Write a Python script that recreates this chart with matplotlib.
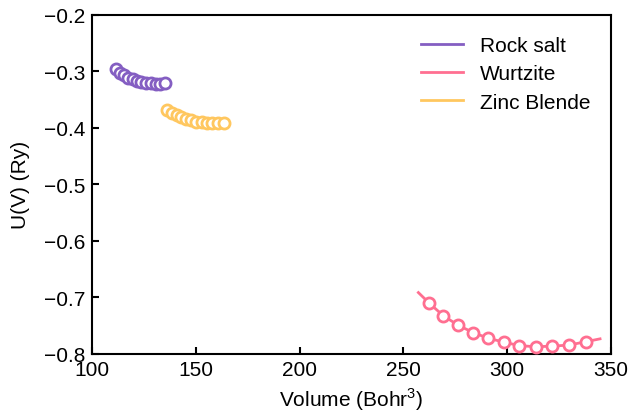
import matplotlib
matplotlib.use("Agg")
import matplotlib.pyplot as plt

plt.rcParams['font.family'] = ['Liberation Sans', 'DejaVu Sans']
plt.rcParams['mathtext.fontset'] = 'custom'
plt.rcParams['mathtext.rm'] = 'Liberation Sans'

# Rock salt
rs_vol = [111.6, 113.5, 115.5, 117.5, 119.6, 121.7, 123.8, 126.0, 128.3, 130.6, 132.9, 135.2]
rs_u = [-0.296, -0.302, -0.307, -0.311, -0.314, -0.317, -0.319, -0.3205, -0.321, -0.3215, -0.3215, -0.321]
rs_fit_vol = [110.0, 111.6, 113.5, 115.5, 117.5, 119.6, 121.7, 123.8, 126.0, 128.3, 130.6, 132.9, 135.2]
rs_fit_u = [-0.292, -0.296, -0.302, -0.307, -0.311, -0.314, -0.317, -0.319, -0.3205, -0.321, -0.3215, -0.3215, -0.321]

# Wurtzite
wz_vol = [262.5, 269.2, 276.4, 283.7, 290.9, 298.6, 305.8, 313.7, 321.4, 329.8, 338.0]
wz_u = [-0.711, -0.733, -0.750, -0.763, -0.773, -0.780, -0.786, -0.788, -0.787, -0.785, -0.779]
wz_fit_vol = [257.2, 262.5, 269.2, 276.4, 283.7, 290.9, 298.6, 305.8, 313.7, 321.4, 329.8, 338.0, 344.7]
wz_fit_u = [-0.692, -0.711, -0.733, -0.750, -0.763, -0.773, -0.780, -0.786, -0.788, -0.787, -0.785, -0.779, -0.774]

# Zinc Blende
zb_vol = [136.1, 138.4, 140.7, 143.0, 145.4, 147.8, 150.3, 152.8, 155.4, 158.0, 160.8, 163.6]
zb_u = [-0.368, -0.373, -0.378, -0.381, -0.384, -0.387, -0.389, -0.390, -0.391, -0.3915, -0.3915, -0.391]
zb_fit_vol = [134.5, 136.1, 138.4, 140.7, 143.0, 145.4, 147.8, 150.3, 152.8, 155.4, 158.0, 160.8, 163.6]
zb_fit_u = [-0.365, -0.368, -0.373, -0.378, -0.381, -0.384, -0.387, -0.389, -0.390, -0.391, -0.3915, -0.3915, -0.391]

c_rs, c_wz, c_zb = '#845EC2', '#FF6F91', '#FFC75F'

fig = plt.figure(figsize=(6.28, 4.14), dpi=100)
ax = fig.add_axes([0.1465, 0.1437, 0.8265, 0.8177])

for fv, fu, v, u, c, lab in [
    (rs_fit_vol, rs_fit_u, rs_vol, rs_u, c_rs, 'Rock salt'),
    (wz_fit_vol, wz_fit_u, wz_vol, wz_u, c_wz, 'Wurtzite'),
    (zb_fit_vol, zb_fit_u, zb_vol, zb_u, c_zb, 'Zinc Blende'),
]:
    ax.plot(fv, fu, color=c, lw=2, label=lab, zorder=2)
    ax.plot(v, u, 'o', ms=8, mfc='white', mec=c, mew=2, zorder=3)

ax.set_xlim(100, 350)
ax.set_ylim(-0.8, -0.2)
ax.set_xticks([100, 150, 200, 250, 300, 350])
ax.set_yticks([-0.8, -0.7, -0.6, -0.5, -0.4, -0.3, -0.2])
ax.tick_params(direction='in', length=5, width=1.5, labelsize=15)
ax.tick_params(axis='x', pad=5)
ax.tick_params(axis='y', pad=5)
for s in ax.spines.values():
    s.set_linewidth(1.5)
ax.set_xlabel('Volume (Bohr$^3$)', fontsize=15, labelpad=4)
ax.set_ylabel('U(V) (Ry)', fontsize=15, labelpad=10)
ax.legend(loc='upper right', frameon=False, fontsize=15, handlelength=2.0,
          handletextpad=0.8, labelspacing=0.45, borderaxespad=0.6)

fig.savefig('out.png', dpi=100)
